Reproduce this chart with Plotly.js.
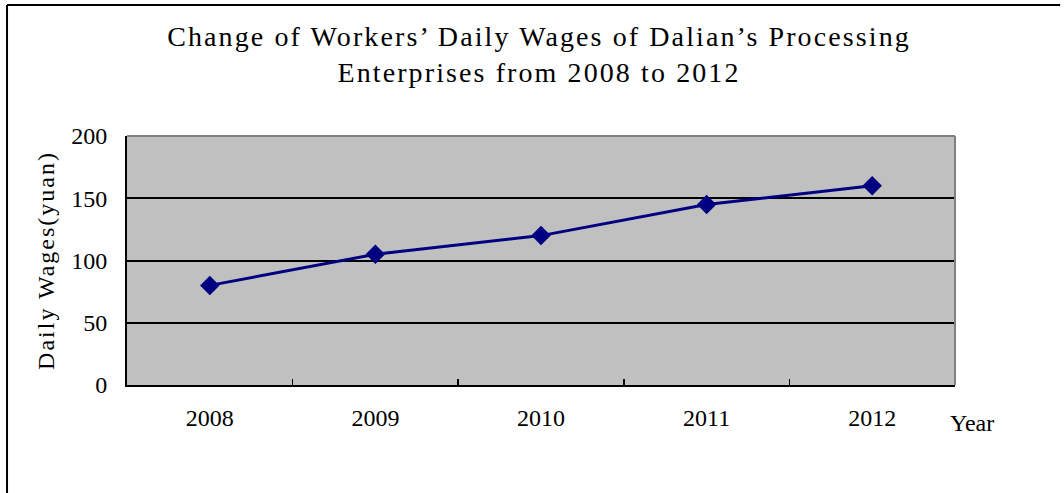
<!DOCTYPE html>
<html>
<head>
<meta charset="utf-8">
<script src="https://cdn.plot.ly/plotly-3.0.1.min.js"></script>
<style>
html,body{margin:0;padding:0;background:#fff;}
#chart{width:1064px;height:493px;}
#chart .gtitle{letter-spacing:2.1px;}
#chart .ytitle{letter-spacing:2px;}
</style>
</head>
<body>
<div id="chart"></div>
<script>
const years = ["2008", "2009", "2010", "2011", "2012"];
const wages = [80, 105, 120, 145, 160];
const yTicks = [0, 50, 100, 150, 200];

const FONT = "Liberation Serif, Times New Roman, serif";

const trace = {
  x: years,
  y: wages,
  type: "scatter",
  mode: "lines+markers",
  line: {color: "#000080", width: 3},
  marker: {symbol: "diamond", size: 15, color: "#000080"},
  hoverinfo: "x+y"
};

const layout = {
  width: 1064,
  height: 493,
  margin: {l: 127, r: 109, t: 136, b: 108},
  paper_bgcolor: "#ffffff",
  plot_bgcolor: "#c0c0c0",
  showlegend: false,
  font: {family: FONT, color: "#000", size: 24},
  title: {
    text: "Change of Workers\u2019 Daily Wages of Dalian\u2019s Processing<br>Enterprises from 2008 to 2012",
    font: {family: FONT, size: 28, color: "#000"},
    x: 0.5066, xanchor: "center",
    y: 0.9067, yanchor: "middle",
    xref: "container", yref: "container"
  },
  xaxis: {
    type: "category",
    range: [-0.5, 4.5],
    showgrid: false,
    zeroline: false,
    showline: true, linecolor: "#000", linewidth: 2,
    ticks: "inside", tickson: "boundaries", ticklen: 6, tickwidth: 1.5, tickcolor: "#000",
    tickfont: {family: FONT, size: 24, color: "#000"},
    ticklabelstandoff: 10,
    fixedrange: true
  },
  yaxis: {
    range: [0, 200],
    tickvals: yTicks,
    ticktext: yTicks.map(String),
    showgrid: true, gridcolor: "#000", gridwidth: 2,
    zeroline: false,
    showline: true, linecolor: "#000", linewidth: 2,
    ticks: "inside", ticklen: 6, tickwidth: 1.5, tickcolor: "#000",
    tickfont: {family: FONT, size: 24, color: "#000"},
    ticklabelstandoff: 13,
    title: {text: "Daily Wages(yuan)", font: {family: FONT, size: 24, color: "#000"}, standoff: 10},
    fixedrange: true
  },
  annotations: [{
    text: "Year", xref: "paper", yref: "paper",
    x: 1.0205, y: -0.1526, xanchor: "center", yanchor: "middle",
    showarrow: false, font: {family: FONT, size: 24, color: "#000"}
  }],
  shapes: [
    {type: "line", xref: "paper", yref: "paper", x0: 0, x1: 1, y0: 1, y1: 1, line: {color: "#808080", width: 2}},
    {type: "line", xref: "paper", yref: "paper", x0: 1, x1: 1, y0: 0, y1: 1, line: {color: "#808080", width: 2}},
    {type: "line", xref: "paper", yref: "paper", x0: -0.1449, x1: -0.1449, y0: -0.45, y1: 1.526, line: {color: "#000", width: 2}},
    {type: "line", xref: "paper", yref: "paper", x0: -0.1449, x1: 1.127, y0: 1.526, y1: 1.526, line: {color: "#000", width: 2}}
  ]
};

Plotly.newPlot("chart", [trace], layout, {displayModeBar: false, staticPlot: true});
</script>
</body>
</html>
